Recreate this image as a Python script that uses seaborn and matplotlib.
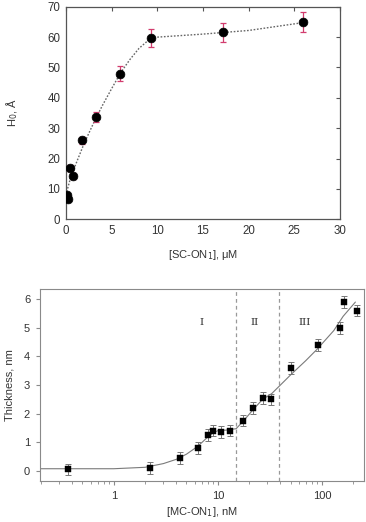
import numpy as np
import pandas as pd
import matplotlib
matplotlib.use("Agg")
import matplotlib.pyplot as plt
import seaborn as sns
from matplotlib.ticker import LogLocator, NullFormatter

sns.set_style("white")
plt.rcParams['font.family'] = ['Liberation Sans', 'DejaVu Sans']

# ---- top panel data ----
sc_conc = [0.1, 0.2, 0.4, 0.8, 1.8, 3.3, 5.9, 9.3, 17.2, 26.0]
h0 = [8.0, 6.8, 17.0, 14.3, 26.0, 33.6, 48.0, 59.6, 61.6, 65.0]
h0_err = [0.8, 0.8, 1.0, 1.0, 1.2, 1.6, 2.4, 3.0, 3.2, 3.3]
sc_fit_x = [0.0, 0.5, 1.0, 2.0, 3.0, 4.0, 5.0, 6.0, 7.0, 8.0, 9.0, 10.0, 12.0, 15.0, 20.0, 26.0]
sc_fit_y = [8.0, 13.5, 17.5, 25.0, 31.5, 37.5, 43.0, 48.3, 52.6, 56.3, 58.9, 60.0, 60.4, 61.0, 62.2, 64.8]

# ---- bottom panel data ----
mc_conc = [0.366, 2.22, 4.31, 6.5, 8.1, 9.07, 10.8, 13.1, 17.6, 22.0, 27.4, 32.3, 50.3, 92.6, 150.0, 161.5, 217.0]
thick = [0.05, 0.1, 0.45, 0.8, 1.25, 1.4, 1.35, 1.4, 1.75, 2.2, 2.55, 2.5, 3.6, 4.4, 5.0, 5.9, 5.6]
thick_err = [0.2, 0.2, 0.2, 0.2, 0.2, 0.2, 0.2, 0.2, 0.2, 0.2, 0.2, 0.2, 0.2, 0.2, 0.2, 0.2, 0.2]
mc_fit_x = [0.2, 1.0, 2.0, 3.0, 4.0, 5.0, 6.0, 7.0, 8.0, 9.0, 10.0, 12.0, 15.0, 18.0, 22.0, 27.0, 33.0, 40.0, 50.0, 70.0, 90.0, 130.0, 160.0, 210.0]
mc_fit_y = [0.07, 0.07, 0.12, 0.25, 0.4, 0.58, 0.78, 0.98, 1.18, 1.33, 1.4, 1.42, 1.47, 1.78, 2.15, 2.5, 2.7, 3.0, 3.35, 3.85, 4.25, 4.9, 5.4, 5.9]
region_bounds = [15.1, 39.0]
region_labels = ["I", "II", "III"]
region_label_x = [7.0, 22.8, 67.6]

fig = plt.figure(figsize=(3.66, 5.22), dpi=100)

# ---------- top ----------
ax1 = fig.add_axes([0.180, 0.580, 0.749, 0.407])
gray = "#555555"
pink = "#d23c6e"
df_fit1 = pd.DataFrame({"x": sc_fit_x, "y": sc_fit_y})
sns.lineplot(data=df_fit1, x="x", y="y", ax=ax1, color="#666666", lw=1.0, linestyle=(0, (1.2, 1.2)))
ax1.errorbar(sc_conc, h0, yerr=h0_err, fmt="none", ecolor=pink, elinewidth=0.9, capsize=2, capthick=0.9, zorder=3)
df1 = pd.DataFrame({"x": sc_conc, "y": h0})
sns.scatterplot(data=df1, x="x", y="y", ax=ax1, color="black", s=40, edgecolor="black", linewidth=0.5, zorder=4)
ax1.set_xlim(0, 30)
ax1.set_ylim(0, 70)
ax1.set_xticks([0, 5, 10, 15, 20, 25, 30])
ax1.set_yticks(range(0, 71, 10))
ax1.tick_params(direction="in", length=3, width=0.8, colors=gray, labelsize=8.3, labelcolor="#333333",
                top=True, right=True, pad=4)
for s in ax1.spines.values():
    s.set_color(gray)
    s.set_linewidth(0.9)
ax1.set_xlabel("[SC-ON$_1$], μM", fontsize=8, color="#333333", labelpad=8)
ax1.set_ylabel("H$_0$, Å", fontsize=8, color="#333333", labelpad=20)

# ---------- bottom ----------
ax2 = fig.add_axes([0.109, 0.0785, 0.886, 0.3675])
g2 = "#8a8a8a"
df_fit2 = pd.DataFrame({"x": mc_fit_x, "y": mc_fit_y})
sns.lineplot(data=df_fit2, x="x", y="y", ax=ax2, color="#7a7a7a", lw=0.8)
ax2.errorbar(mc_conc, thick, yerr=thick_err, fmt="none", ecolor="#777777", elinewidth=0.7, capsize=2, capthick=0.7, zorder=3)
df2 = pd.DataFrame({"x": mc_conc, "y": thick})
sns.scatterplot(data=df2, x="x", y="y", ax=ax2, color="black", marker="s", s=22, edgecolor="black", linewidth=0.3, zorder=4)
for b in region_bounds:
    ax2.axvline(b, color="#999999", lw=0.9, linestyle=(0, (3, 2.5)))
for lab, lx in zip(region_labels, region_label_x):
    ax2.text(lx, 5.2, lab, ha="center", va="center", fontsize=7.5, family="DejaVu Serif", color="#333333")
ax2.set_xscale("log")
ax2.set_xlim(0.195, 255)
ax2.set_ylim(-0.36, 6.35)
ax2.set_xticks([1, 10, 100])
ax2.set_xticklabels(["1", "10", "100"])
ax2.xaxis.set_minor_locator(LogLocator(base=10, subs=np.arange(2, 10)))
ax2.xaxis.set_minor_formatter(NullFormatter())
ax2.set_yticks(range(0, 7))
ax2.tick_params(which="major", direction="out", length=3, width=0.8, colors=g2, labelsize=8, labelcolor="#333333", pad=4)
ax2.tick_params(which="minor", direction="out", length=1.8, width=0.6, colors=g2)
ax2.tick_params(axis="x", which="both", bottom=True)
ax2.tick_params(axis="y", left=True)
for s in ax2.spines.values():
    s.set_color(g2)
    s.set_linewidth(0.8)
ax2.set_xlabel("[MC-ON$_1$], nM", fontsize=8, color="#333333", labelpad=3)
ax2.set_ylabel("Thickness, nm", fontsize=8, color="#333333", labelpad=7)

fig.savefig("out.png", dpi=100)
